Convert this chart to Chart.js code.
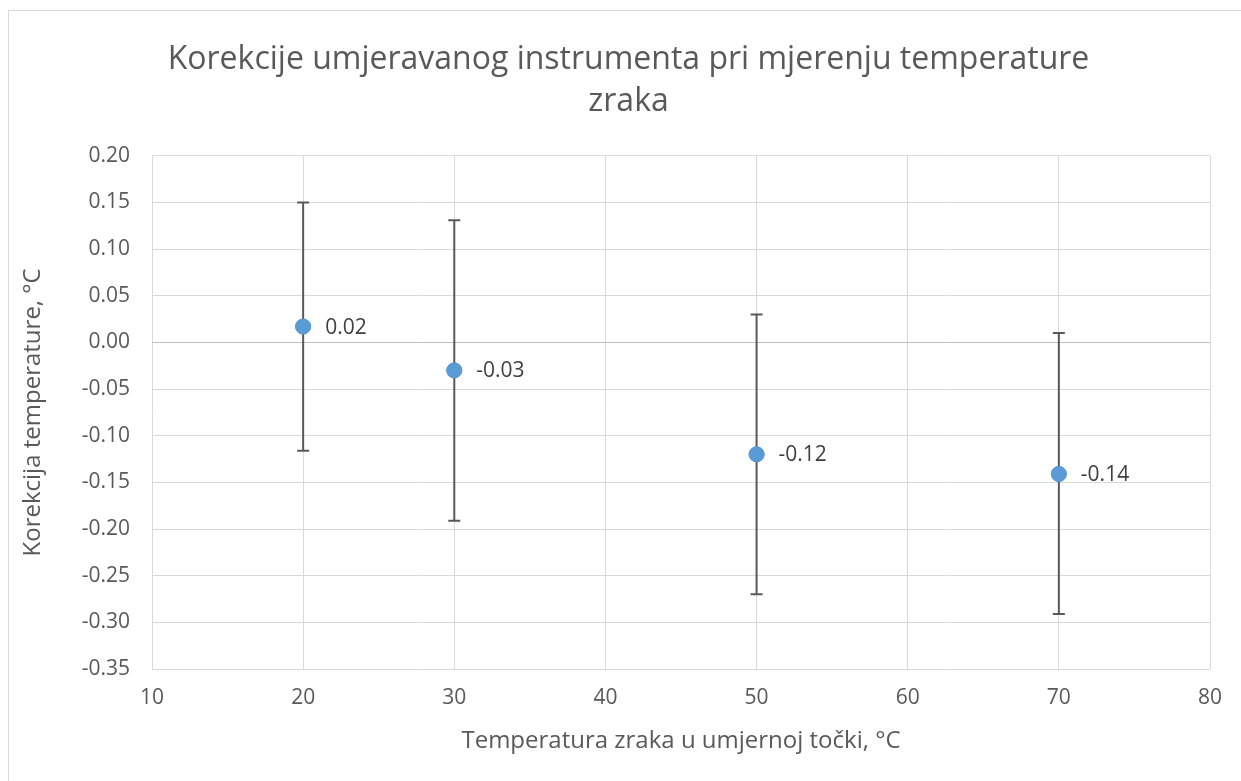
<!DOCTYPE html>
<html>
<head>
<meta charset="utf-8">
<script src="https://cdn.jsdelivr.net/npm/chart.js@4.4.1/dist/chart.umd.min.js"></script>
<style>
  body { margin: 0; background: #fff; }
  #wrap { position: relative; width: 1241px; height: 781px; overflow: hidden; }
  #frame { position: absolute; left: 8px; top: 10px; width: 1260px; height: 800px; border: 1px solid #d9d9d9; }
  canvas { position: absolute; left: 0; top: 0; }
</style>
</head>
<body>
<div id="wrap">
  <div id="frame"></div>
  <canvas id="chart" width="1241" height="781"></canvas>
</div>
<script>
// measuring points
var tempPoints = [20, 30, 50, 70];
var corrections = [0.017, -0.030, -0.120, -0.141];
var errPlus = [0.133, 0.161, 0.150, 0.151];
var errMinus = [0.133, 0.161, 0.150, 0.150];

var FONT = "'Open Sans', 'Noto Sans', sans-serif";
var GREY = '#595959';

var pts = tempPoints.map(function (t, i) { return { x: t, y: corrections[i] }; });

// error bars + value labels, placed through the chart scales
var errorBars = {
  id: 'errorBars',
  afterDatasetsDraw: function (chart) {
    var xs = chart.scales.x, ys = chart.scales.y;
    var ctx = chart.ctx;
    ctx.save();
    ctx.strokeStyle = GREY;
    ctx.lineWidth = 2;
    for (var i = 0; i < tempPoints.length; i++) {
      var px = xs.getPixelForValue(tempPoints[i]);
      var top = ys.getPixelForValue(corrections[i] + errPlus[i]);
      var bot = ys.getPixelForValue(corrections[i] - errMinus[i]);
      ctx.beginPath();
      ctx.moveTo(px, top); ctx.lineTo(px, bot);
      ctx.moveTo(px - 6, top); ctx.lineTo(px + 6, top);
      ctx.moveTo(px - 6, bot); ctx.lineTo(px + 6, bot);
      ctx.stroke();
    }
    // redraw points on top of bars
    chart.getDatasetMeta(0).data.forEach(function (el) { el.draw(ctx); });
    ctx.fillStyle = '#404040';
    ctx.font = '21px ' + FONT;
    ctx.textBaseline = 'middle';
    for (var j = 0; j < tempPoints.length; j++) {
      var lx = xs.getPixelForValue(tempPoints[j]) + 22;
      var ly = ys.getPixelForValue(corrections[j]) + 1;
      ctx.fillText(corrections[j].toFixed(2), lx, ly);
    }
    ctx.restore();
  }
};

new Chart(document.getElementById('chart'), {
  type: 'scatter',
  data: {
    datasets: [{
      label: 'Korekcija',
      data: pts,
      backgroundColor: '#5b9bd5',
      borderColor: '#5b9bd5',
      pointRadius: 7.5,
      pointHoverRadius: 7.5
    }]
  },
  options: {
    responsive: false,
    animation: false,
    layout: { padding: { left: 47, right: 31, top: 0, bottom: 25 } },
    plugins: {
      legend: { display: false },
      tooltip: { enabled: false },
      title: {
        display: true,
        text: ['Korekcije umjeravanog instrumenta pri mjerenju temperature', 'zraka'],
        color: GREY,
        font: { family: FONT, size: 32, weight: 'normal', lineHeight: 1.34 },
        padding: { top: 38, bottom: 32 }
      }
    },
    scales: {
      x: {
        type: 'linear',
        min: 10, max: 80,
        border: { display: false },
        grid: { color: '#d9d9d9', lineWidth: 1, drawTicks: false },
        ticks: { stepSize: 10, color: GREY, padding: 16, font: { family: FONT, size: 21 } },
        title: {
          display: true,
          text: 'Temperatura zraka u umjernoj točki, °C',
          color: GREY,
          font: { family: FONT, size: 24 },
          padding: { top: 1, bottom: 0 }
        }
      },
      y: {
        min: -0.35, max: 0.20,
        border: { display: false },
        afterFit: function (scale) { scale.width = 105; },
        grid: {
          drawTicks: false,
          lineWidth: 1,
          color: function (c) { return c.tick && Math.abs(c.tick.value) < 1e-9 ? '#bfbfbf' : '#d9d9d9'; }
        },
        ticks: {
          stepSize: 0.05,
          color: GREY,
          padding: 22,
          font: { family: FONT, size: 21 },
          callback: function (v) { return v.toFixed(2); }
        },
        title: {
          display: true,
          text: 'Korekcija temperature, °C',
          color: GREY,
          font: { family: FONT, size: 24 },
          padding: { top: -28, bottom: 0 }
        }
      }
    }
  },
  plugins: [errorBars]
});
</script>
</body>
</html>
